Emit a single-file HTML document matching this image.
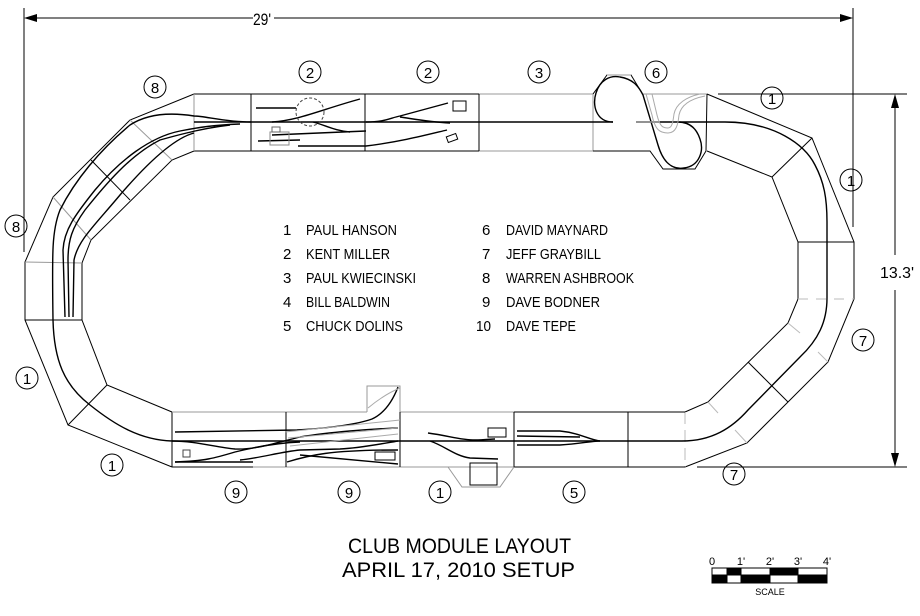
<!DOCTYPE html>
<html><head><meta charset="utf-8"><style>
html,body{margin:0;padding:0;background:#fff;}
svg{display:block;}
text{font-family:"Liberation Sans",sans-serif;fill:#000;}
</style></head><body>
<svg width="920" height="616" viewBox="0 0 920 616" xmlns="http://www.w3.org/2000/svg">
<defs>
<marker id="ah" markerWidth="10" markerHeight="8" refX="10" refY="4" orient="auto" markerUnits="userSpaceOnUse"><path d="M0,0 L10,4 L0,8 z" fill="#000"/></marker>
</defs>
<!-- Top dimension -->
<g stroke="#000" stroke-width="1" fill="none">
<line x1="24" y1="8" x2="24" y2="252"/>
<line x1="853" y1="8" x2="853" y2="227"/>
<line x1="26" y1="18" x2="253" y2="18" marker-start="url(#ahs)"/>
<line x1="274" y1="18" x2="851" y2="18"/>
</g>
<path d="M24,18 L37,14 L37,22 z" fill="#000"/>
<path d="M853,18 L840,14 L840,22 z" fill="#000"/>
<line x1="30" y1="18" x2="253" y2="18" stroke="#000"/>
<text x="262" y="25" font-size="17" text-anchor="middle" textLength="18" lengthAdjust="spacingAndGlyphs">29'</text>
<!-- Right dimension -->
<g stroke="#000" stroke-width="1" fill="none">
<line x1="718" y1="94" x2="907" y2="94"/>
<line x1="697" y1="467" x2="907" y2="467"/>
<line x1="895" y1="100" x2="895" y2="255"/>
<line x1="895" y1="290" x2="895" y2="460"/>
</g>
<path d="M895,94 L891,108 L899,108 z" fill="#000"/>
<path d="M895,467 L891,453 L899,453 z" fill="#000"/>
<text x="880" y="278" font-size="16" textLength="34" lengthAdjust="spacingAndGlyphs">13.3'</text>

<!-- Boards -->
<g fill="none" stroke-width="1">
<!-- left curve outer/inner -->
<polyline stroke="#000" points="194,94 130,120 53,197 25,262 25,320 68,425 172,467"/>
<polyline stroke="#000" points="194,151 172,160 91,240 82,263 82,320 107,385 172,412"/>
<line stroke="#999" x1="130" y1="120" x2="172" y2="160"/>
<line stroke="#000" x1="91" y1="160" x2="130" y2="200"/>
<line stroke="#999" x1="53" y1="197" x2="91" y2="240"/>
<line stroke="#999" x1="25" y1="262" x2="82" y2="263"/>
<line stroke="#000" x1="25" y1="320" x2="82" y2="320"/>
<line stroke="#000" x1="68" y1="425" x2="107" y2="385"/>
<!-- top straight -->
<line stroke="#000" x1="194" y1="94" x2="251" y2="94"/>
<line stroke="#999" x1="251" y1="94" x2="593" y2="94"/>
<line stroke="#000" x1="251" y1="94" x2="479" y2="94"/>
<line stroke="#000" x1="194" y1="151" x2="479" y2="151"/>
<line stroke="#999" x1="479" y1="151" x2="593" y2="151"/>
<line stroke="#999" x1="194" y1="94" x2="194" y2="151"/>
<line stroke="#000" x1="251" y1="94" x2="251" y2="151"/>
<line stroke="#000" x1="365" y1="94" x2="365" y2="151"/>
<line stroke="#000" x1="479" y1="94" x2="479" y2="151"/>
<line stroke="#999" x1="593" y1="94" x2="593" y2="151"/>
<!-- module 6 -->
<polyline stroke="#000" points="593,94 607,75 631,75 642,93"/>
<line stroke="#999" x1="607" y1="75" x2="631" y2="75"/>
<line stroke="#999" x1="642" y1="94" x2="707" y2="94"/>
<polyline stroke="#000" points="593,151 650,151 663,169 695,169 706,151 707,94"/>
<!-- right curve -->
<polyline stroke="#000" points="707,94 812,138 854,242 854,299 828,362 747,443 685,467"/>
<polyline stroke="#000" points="707,151 772,177 798,242 798,299 788,323 708,402 685,412"/>
<line stroke="#000" x1="772" y1="177" x2="812" y2="138"/>
<line stroke="#000" x1="798" y1="242" x2="854" y2="242"/>
<line stroke="#bbb" x1="798" y1="299" x2="854" y2="299" stroke-dasharray="10,8"/>
<line stroke="#bbb" x1="788" y1="323" x2="800" y2="333"/>
<line stroke="#bbb" x1="818" y1="352" x2="828" y2="362"/>
<line stroke="#000" x1="748" y1="362" x2="788" y2="402"/>
<line stroke="#bbb" x1="708" y1="402" x2="718" y2="413"/>
<line stroke="#bbb" x1="735" y1="430" x2="747" y2="443"/>
<line stroke="#bbb" x1="685" y1="412" x2="685" y2="467" stroke-dasharray="12,6"/>
<!-- bottom straight -->
<line stroke="#000" x1="172" y1="412" x2="172" y2="467"/>
<line stroke="#999" x1="172" y1="412" x2="367" y2="412"/>
<line stroke="#999" x1="400" y1="412" x2="685" y2="412"/>
<line stroke="#000" x1="514" y1="412" x2="685" y2="412"/>
<line stroke="#000" x1="172" y1="467" x2="253" y2="467"/>
<line stroke="#999" x1="253" y1="467" x2="685" y2="467"/>
<line stroke="#000" x1="514" y1="467" x2="685" y2="467"/>
<line stroke="#000" x1="286" y1="412" x2="286" y2="467"/>
<line stroke="#000" x1="400" y1="412" x2="400" y2="467"/>
<line stroke="#999" x1="514" y1="412" x2="514" y2="467"/>
<line stroke="#000" x1="514" y1="412" x2="514" y2="467"/>
<line stroke="#000" x1="628" y1="412" x2="628" y2="467"/>
<polyline stroke="#999" points="367,412 367,386 400,386 400,412"/>
<polyline stroke="#999" points="448,467 462,487 500,487 514,467"/>
<rect stroke="#000" x="470" y="463" width="27" height="22"/>
</g>

<!-- Tracks -->
<g fill="none" stroke="#000" stroke-width="1.4">
<!-- main line top -->
<line x1="194" y1="122" x2="613" y2="122"/>
<line x1="636" y1="122" x2="725" y2="122"/>
<!-- right curve -->
<path d="M725,122 C775,122 805,145 815,165 C824,182 827,198 827,222 L827,298 C827,322 818,340 800,357 L748,410 C732,428 712,441 682,441"/>
<!-- bottom main -->
<line x1="172" y1="441" x2="682" y2="441"/>
<!-- left curve main -->
<path d="M251,122 C225,122 205,116 194,116 C175,113 150,112 130,125 C100,150 75,180 60,210 C52,230 52,250 53,320 C54,360 64,385 90,405 C115,425 140,440 172,441"/>
<path d="M240,124 C215,125 200,127 180,131 C150,137 120,160 95,190 C75,215 64,230 63,250 L65,317"/>
<path d="M230,125 C205,128 185,133 160,140 C130,155 105,185 85,210 C72,228 68,240 68,260 L69,317"/>
<path d="M194,133 C175,138 150,160 120,195 C95,225 78,240 74,260 L73,317"/>
<!-- module 2a -->
<path d="M256,108 L296,108"/>
<path d="M272,122 C300,120 320,110 360,99"/>
<path d="M313,122 C325,125 335,131 350,132"/>
<path d="M272,135 L366,131"/>
<path d="M258,141 L300,140"/>
<path d="M298,146 L366,146 C400,142 430,134 447,130"/>
<!-- module 2b -->
<path d="M366,122 C385,122 390,118 400,116 L448,103"/>
<path d="M400,117 C420,120 430,122 450,123"/>
<!-- module 6 loops -->
<path d="M613,122 C596,122 592,105 596,93 C600,80 610,75 620,77 C632,79 638,85 643,95 L658,145 C663,162 672,170 684,168 C700,166 704,150 700,139 C696,127 688,122 678,122"/>
<!-- bottom yard -->
<path d="M175,432 L297,430 C330,428 355,425 372,419 C385,413 393,400 398,387"/>
<path d="M172,441 C195,441 215,447 235,449 C255,450 275,443 300,437 C330,432 370,429 398,428"/>
<path d="M175,462 L253,462"/>
<path d="M175,462 C205,461 215,458 235,452 C255,447 275,443 300,442"/>
<path d="M240,460 C260,458 280,452 300,450 L340,449 C360,448 380,444 398,441"/>
<path d="M287,462 C310,455 330,450 398,450"/>
<path d="M300,455 L398,464"/>
<path d="M428,433 C450,436 460,440 475,440 C485,440 490,439 495,439"/>
<path d="M430,441 C445,446 455,456 470,458 L498,459"/>
<path d="M517,431 L560,431 C580,433 590,440 600,441"/>
<path d="M517,436 L580,437"/>
<path d="M517,445 L560,445 C580,444 590,441 600,441"/>
</g>
<g fill="none" stroke="#aaa" stroke-width="1">
<path d="M646,94 L652,115 C655,130 660,133 668,133 C676,133 678,125 679,115 C681,105 690,99 705,96"/>
<path d="M652,94 L657,115 C660,127 663,128 668,128 C672,128 673,122 674,114 C676,104 686,97 700,94"/>
<circle cx="310" cy="112" r="14" stroke="#444" stroke-dasharray="3,2"/>
<path d="M285,432 L400,420 M288,438 L398,428 M290,446 L398,434"/>
<path d="M368,408 C380,398 390,392 400,388"/>
<rect x="270" y="132" width="19" height="13" stroke="#888"/>
<rect x="272" y="127" width="8" height="5" stroke="#666"/>
<rect x="183" y="450" width="7" height="7" stroke="#444"/>
</g>
<line x1="636" y1="122" x2="660" y2="122" stroke="#999" stroke-width="1.4"/>
<g fill="none" stroke="#000" stroke-width="1">
<rect x="453" y="101" width="13" height="10"/>
<rect x="447" y="135" width="10" height="6" transform="rotate(-20 452 138)"/>
<rect x="375" y="452" width="20" height="8"/>
<rect x="488" y="428" width="18" height="9"/>
</g>

<!-- Circle labels -->
<g fill="none" stroke="#000" stroke-width="1">
<circle cx="155" cy="87" r="11"/><circle cx="310" cy="72" r="11"/><circle cx="428" cy="72" r="11"/>
<circle cx="539" cy="72" r="11"/><circle cx="656" cy="72" r="11"/><circle cx="772" cy="98" r="11"/>
<circle cx="851" cy="180" r="11"/><circle cx="16" cy="226" r="11"/><circle cx="863" cy="340" r="11"/>
<circle cx="27" cy="378" r="11"/><circle cx="112" cy="465" r="11"/><circle cx="236" cy="492" r="11"/>
<circle cx="349" cy="492" r="11"/><circle cx="440" cy="492" r="11"/><circle cx="574" cy="492" r="11"/>
<circle cx="734" cy="474" r="11"/>
</g>
<g font-size="15" text-anchor="middle">
<text x="155" y="93">8</text><text x="310" y="78">2</text><text x="428" y="78">2</text>
<text x="539" y="78">3</text><text x="656" y="78">6</text><text x="772" y="104">1</text>
<text x="851" y="186">1</text><text x="16" y="232">8</text><text x="863" y="346">7</text>
<text x="27" y="384">1</text><text x="112" y="471">1</text><text x="236" y="498">9</text>
<text x="349" y="498">9</text><text x="440" y="498">1</text><text x="574" y="498">5</text>
<text x="734" y="480">7</text>
</g>

<!-- Legend -->
<g font-size="15">
<text x="283" y="235">1</text><text x="306" y="235" textLength="91" lengthAdjust="spacingAndGlyphs">PAUL  HANSON</text>
<text x="283" y="259">2</text><text x="306" y="259" textLength="84" lengthAdjust="spacingAndGlyphs">KENT  MILLER</text>
<text x="283" y="283">3</text><text x="306" y="283" textLength="110" lengthAdjust="spacingAndGlyphs">PAUL  KWIECINSKI</text>
<text x="283" y="307">4</text><text x="306" y="307" textLength="84" lengthAdjust="spacingAndGlyphs">BILL  BALDWIN</text>
<text x="283" y="331">5</text><text x="306" y="331" textLength="97" lengthAdjust="spacingAndGlyphs">CHUCK  DOLINS</text>
<text x="482" y="235">6</text><text x="506" y="235" textLength="102" lengthAdjust="spacingAndGlyphs">DAVID  MAYNARD</text>
<text x="482" y="259">7</text><text x="506" y="259" textLength="95" lengthAdjust="spacingAndGlyphs">JEFF  GRAYBILL</text>
<text x="482" y="283">8</text><text x="506" y="283" textLength="128" lengthAdjust="spacingAndGlyphs">WARREN  ASHBROOK</text>
<text x="482" y="307">9</text><text x="506" y="307" textLength="94" lengthAdjust="spacingAndGlyphs">DAVE  BODNER</text>
<text x="476" y="331" textLength="15" lengthAdjust="spacingAndGlyphs">10</text><text x="506" y="331" textLength="70" lengthAdjust="spacingAndGlyphs">DAVE  TEPE</text>
</g>

<!-- Title -->
<text x="348" y="553" font-size="21" textLength="223" lengthAdjust="spacingAndGlyphs">CLUB  MODULE  LAYOUT</text>
<text x="342" y="577" font-size="21" textLength="233" lengthAdjust="spacingAndGlyphs">APRIL  17,  2010  SETUP</text>

<!-- Scale bar -->
<g stroke="#000" stroke-width="1">
<rect x="712" y="568" width="115" height="15" fill="#fff"/>
<rect x="727" y="568" width="14" height="7" fill="#000"/>
<rect x="770" y="568" width="28" height="7" fill="#000"/>
<rect x="712" y="575" width="15" height="8" fill="#000"/>
<rect x="741" y="575" width="29" height="8" fill="#000"/>
<rect x="798" y="575" width="29" height="8" fill="#000"/>
</g>
<g font-size="11" text-anchor="middle">
<text x="712" y="565">0</text><text x="741" y="565">1'</text><text x="770" y="565">2'</text><text x="798" y="565">3'</text><text x="827" y="565">4'</text>
<text x="770" y="595" font-size="9">SCALE</text>
</g>
</svg>
</body></html>
